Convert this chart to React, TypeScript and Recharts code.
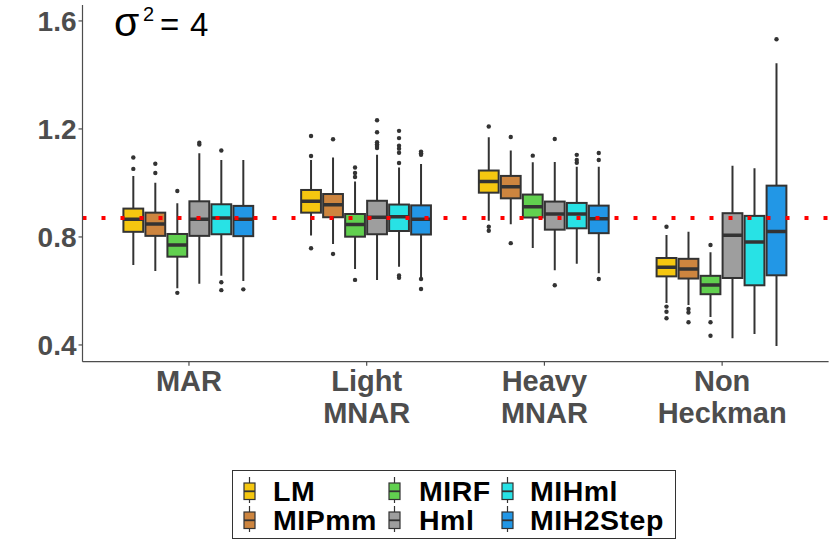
import React from "react";
import {
  ComposedChart,
  Bar,
  XAxis,
  YAxis,
  ReferenceLine,
  Customized,
} from "recharts";

// ---------- data ----------
const categories = ["MAR", "Light\nMNAR", "Heavy\nMNAR", "Non\nHeckman"];
const seriesNames = ["LM", "MIPmm", "MIRF", "Hml", "MIHml", "MIH2Step"];
const seriesColors = ["#F5C710", "#CD853F", "#61D04F", "#9E9E9E", "#28E2E5", "#2297E6"];
const yTicks = [0.4, 0.8, 1.2, 1.6];
const trueValue = 0.87;

// box stats per category: [lowerWhisker, q1, median, q3, upperWhisker]
const lmStats = [
  [0.696, 0.819, 0.866, 0.905, 1.026],
  [0.805, 0.89, 0.932, 0.974, 1.085],
  [0.86, 0.964, 1.005, 1.046, 1.169],
  [0.555, 0.654, 0.688, 0.722, 0.807],
];
const mipmmStats = [
  [0.674, 0.804, 0.848, 0.89, 1.001],
  [0.774, 0.873, 0.919, 0.959, 1.094],
  [0.847, 0.943, 0.986, 1.026, 1.12],
  [0.548, 0.646, 0.681, 0.719, 0.819],
];
const mirfStats = [
  [0.61, 0.727, 0.77, 0.811, 0.925],
  [0.681, 0.801, 0.846, 0.885, 1.005],
  [0.759, 0.872, 0.912, 0.957, 1.077],
  [0.504, 0.588, 0.622, 0.656, 0.743],
];
const hmlStats = [
  [0.627, 0.804, 0.866, 0.932, 1.11],
  [0.641, 0.81, 0.873, 0.934, 1.104],
  [0.677, 0.827, 0.885, 0.931, 1.078],
  [0.425, 0.648, 0.806, 0.888, 1.064],
];
const mihmlStats = [
  [0.656, 0.81, 0.87, 0.921, 1.085],
  [0.69, 0.822, 0.875, 0.92, 1.057],
  [0.701, 0.832, 0.885, 0.926, 1.06],
  [0.441, 0.621, 0.781, 0.878, 1.054],
];
const mih2Stats = [
  [0.637, 0.803, 0.866, 0.915, 1.085],
  [0.647, 0.809, 0.866, 0.917, 1.07],
  [0.666, 0.814, 0.867, 0.916, 1.06],
  [0.396, 0.658, 0.82, 0.99, 1.443],
];

// outliers per category
const lmOut = [[1.094, 1.052], [1.174, 1.1, 0.758], [1.209, 0.838, 0.823], [0.838, 0.542, 0.523, 0.499]];
const mipmmOut = [[1.071, 1.037], [1.162, 0.737], [1.17, 0.777], [0.533, 0.52, 0.484]];
const mirfOut = [[0.97, 0.593], [1.057, 1.037, 1.022, 0.641], [1.101], [0.77, 0.484, 0.434]];
const hmlOut = [[1.149, 1.142], [1.232, 1.188, 1.151, 1.143, 1.137, 1.129], [1.163, 0.621], []];
const mihmlOut = [
  [1.12, 0.632, 0.603],
  [1.193, 1.166, 1.138, 1.127, 1.112, 1.074, 0.657, 0.649],
  [1.104, 1.085, 1.075],
  [],
];
const mih2Out = [[0.606], [1.116, 1.11, 1.104, 0.644, 0.607], [1.111, 1.085, 0.644], [1.532]];

const allStats = [lmStats, mipmmStats, mirfStats, hmlStats, mihmlStats, mih2Stats];
const allOut = [lmOut, mipmmOut, mirfOut, hmlOut, mihmlOut, mih2Out];

const data = categories.map((cat, ci) => {
  const row: any = { cat };
  seriesNames.forEach((s, si) => {
    const st = allStats[si][ci];
    row[s] = [st[0], st[4]];
    row[s + "_stats"] = st;
    row[s + "_out"] = allOut[si][ci];
  });
  return row;
});

// ---------- drawing ----------
const DARK = "#333333";
const AXIS_GRAY = "#4D4D4D";
const FONT = "'Liberation Sans', Arial, Helvetica, sans-serif";

function makeBoxShape(name: string, color: string) {
  return (props: any) => {
    const { x, y, width, height, payload } = props;
    const st = payload[name + "_stats"];
    const outs: number[] = payload[name + "_out"];
    const top = Math.min(y, y + height);
    const h = Math.abs(height);
    const lo = st[0];
    const hi = st[4];
    const py = (v: number) => top + ((hi - v) / (hi - lo)) * h;
    const cx = x + width / 2;
    const bw = width * 0.9;
    const bx = cx - bw / 2;
    return (
      <g>
        <line x1={cx} x2={cx} y1={py(hi)} y2={py(st[3])} stroke={DARK} strokeWidth={2} />
        <line x1={cx} x2={cx} y1={py(st[1])} y2={py(lo)} stroke={DARK} strokeWidth={2} />
        <rect
          x={bx}
          y={py(st[3])}
          width={bw}
          height={py(st[1]) - py(st[3])}
          fill={color}
          stroke={DARK}
          strokeWidth={2}
        />
        <line x1={bx} x2={bx + bw} y1={py(st[2])} y2={py(st[2])} stroke={DARK} strokeWidth={3.5} />
        {outs.map((v, i) => (
          <circle key={i} cx={cx} cy={py(v)} r={2.2} fill={DARK} />
        ))}
      </g>
    );
  };
}

const XTick = (props: any) => {
  const { x, y, payload } = props;
  const lines = String(payload.value).split("\n");
  return (
    <text
      x={x}
      y={y}
      textAnchor="middle"
      fill={AXIS_GRAY}
      fontSize={29}
      fontWeight="bold"
      fontFamily={FONT}
    >
      {lines.map((l, i) => (
        <tspan key={i} x={x} dy={i === 0 ? 23 : 32}>
          {l}
        </tspan>
      ))}
    </text>
  );
};

const Annotation = () => (
  <text fontFamily={FONT} fill="#000" fontSize={33}>
    <tspan x={114} y={36} fontSize={41}>σ</tspan>
    <tspan x={143} y={21} fontSize={20}>2</tspan>
    <tspan x={160} y={36}>=</tspan>
    <tspan x={190} y={36}>4</tspan>
  </text>
);

const LegendBox = () => {
  const colX = [12, 157, 270];
  const textX = [41, 187, 298];
  return (
    <svg
      width={444}
      height={69}
      style={{ position: "absolute", left: 232, top: 469.5, overflow: "visible" }}
    >
      <rect x={0.5} y={0.5} width={443} height={68} fill="#fff" stroke={DARK} strokeWidth={1} />
      {seriesNames.map((s, i) => {
        const col = Math.floor(i / 2);
        const row = i % 2;
        const ix = colX[col];
        const oy = row * 29;
        const cx = ix + 5.5;
        return (
          <g key={s}>
            <line x1={cx} x2={cx} y1={7 + oy} y2={33 + oy} stroke={DARK} strokeWidth={1.2} />
            <rect
              x={ix}
              y={13 + oy}
              width={11}
              height={16.5}
              fill={seriesColors[i]}
              stroke={DARK}
              strokeWidth={1.2}
            />
            <line x1={ix} x2={ix + 11} y1={21.3 + oy} y2={21.3 + oy} stroke={DARK} strokeWidth={1.8} />
            <text
              x={textX[col]}
              y={31 + oy}
              fontSize={28.5}
              letterSpacing={0.5}
              fontWeight="bold"
              fontFamily={FONT}
              fill="#000"
            >
              {s}
            </text>
          </g>
        );
      })}
    </svg>
  );
};

export default function App() {
  return (
    <div
      style={{
        position: "absolute",
        left: 0,
        top: 0,
        width: 830,
        height: 543,
        background: "#fff",
      }}
    >
      <ComposedChart
        width={830}
        height={543}
        data={data}
        margin={{ top: 5, right: 1.4, left: 0, bottom: 111.3 }}
        barCategoryGap="12.5%"
        barGap={0}
      >
        <XAxis
          dataKey="cat"
          type="category"
          interval={0}
          height={70}
          padding={{ left: 17.6, right: 17.6 }}
          axisLine={{ stroke: AXIS_GRAY, strokeWidth: 1.2 }}
          tickLine={{ stroke: AXIS_GRAY, strokeWidth: 1.2 }}
          tickSize={4}
          tick={<XTick />}
        />
        <YAxis
          type="number"
          width={82.5}
          domain={[0.338, 1.659]}
          ticks={yTicks}
          allowDataOverflow
          axisLine={{ stroke: AXIS_GRAY, strokeWidth: 1.2 }}
          tickLine={{ stroke: AXIS_GRAY, strokeWidth: 1.2 }}
          tickSize={4}
          tickMargin={2}
          tickFormatter={(v: number) => v.toFixed(1)}
          tick={{ fill: AXIS_GRAY, fontSize: 28, fontWeight: "bold", fontFamily: FONT }}
        />
        {seriesNames.map((s, i) => (
          <Bar
            key={s}
            dataKey={s}
            fill={seriesColors[i]}
            isAnimationActive={false}
            shape={makeBoxShape(s, seriesColors[i])}
          />
        ))}
        <ReferenceLine
          y={trueValue}
          stroke="#FF0000"
          strokeWidth={4}
          strokeDasharray="4 15"
        />
        <Customized component={<Annotation />} />
      </ComposedChart>
      <LegendBox />
    </div>
  );
}
